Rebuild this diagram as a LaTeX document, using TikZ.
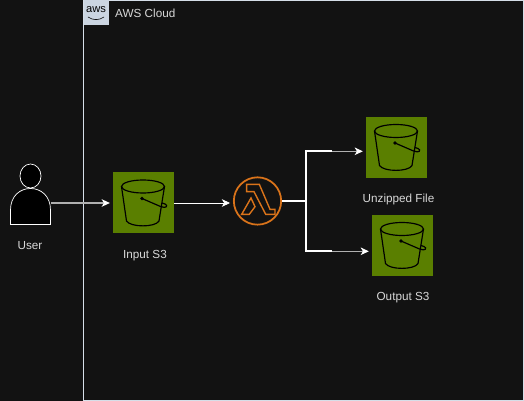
\documentclass[tikz,border=0pt]{standalone}
\usepackage{fontspec}
\setmainfont{Liberation Sans}
\usetikzlibrary{arrows.meta}
\definecolor{bgdark}{HTML}{121212}
\definecolor{bucketgreen}{HTML}{5A7F00}
\definecolor{lambdaorange}{HTML}{D9731A}
\definecolor{labelgray}{HTML}{D8D8D8}
\definecolor{awsbadge}{HTML}{CBD5E1}
\definecolor{linegray}{HTML}{B0B0B0}
\definecolor{framecol}{HTML}{D5DEE8}
\tikzset{
  lbl/.style={text=labelgray, font=\fontsize{10pt}{12pt}\selectfont, inner sep=0pt},
  tile/.style={fill=bucketgreen, draw=none, minimum size=1.83cm, inner sep=0pt},
  flow/.style={draw=linegray, line width=0.9pt, shorten >=2.5pt, -{Stealth[length=7pt,width=6.5pt,inset=2pt,color=white]}},
  thinflow/.style={flow, draw=white, line width=0.6pt},
  trunk/.style={draw=white, line width=1.6pt}
}
% bucket icon, drawn round the centre of its tile
\newcommand{\bucketicon}[1]{
  \begin{scope}[shift={(#1)}, black, line width=1pt, x=0.03cm, y=-0.03cm]
    \draw (-0.5,-16.5) ellipse (21.5 and 6.5);
    \draw (-22,-16.5) -- (-17,18) .. controls (-13,24.5) and (12,24.5) .. (15.5,18) -- (21,-16.5);
    \fill (-1.5,-4.5) circle (1.8);
    \draw (-1.5,-4.5) -- (17,3.5) .. controls (23,6) and (25,2.5) .. (21.5,1) -- (18.5,0);
  \end{scope}
}
\begin{document}
\begin{tikzpicture}[x=0.03cm, y=-0.03cm]
\useasboundingbox (0,0) rectangle (524,401);
\fill[bgdark] (0,0) rectangle (524,401);
% cloud frame
\draw[draw=framecol, line width=0.6pt] (83.5,0.5) rectangle (523.5,400);
\node[fill=awsbadge, minimum size=0.75cm, inner sep=0pt, anchor=north west] (badge) at (84,0) {};
\node[font=\fontsize{9.5pt}{9.5pt}\selectfont, text=black, inner sep=0pt] (awslogo) at (96,9.5) {aws};
\draw[black, line width=0.5pt] (88,17) .. controls (93,20.5) and (99,20.5) .. (104,17);
\node[lbl, anchor=west] (cloudlbl) at (115,13.5) {AWS Cloud};
% user
\draw[white, fill=black, line width=0.6pt] (30.5,176) ellipse (10.5 and 12);
\draw[white, fill=black, line width=0.6pt] (10.5,224.5) -- (10.5,210) .. controls (10.5,196) and (20,188.5) .. (30.5,188.5)
  .. controls (41,188.5) and (50.5,196) .. (50.5,210) -- (50.5,224.5) -- cycle;
\coordinate (user) at (51,203);
\node[lbl] (userlbl) at (30,245.5) {User};
% buckets
\node[tile] (input) at (143.5,203) {};
\bucketicon{input}
\node[lbl] (inputlbl) at (145,255.5) {Input S3};
\node[tile] (unzipped) at (396.5,147.5) {};
\bucketicon{unzipped}
\node[lbl] (unzippedlbl) at (398.5,199.5) {Unzipped File};
\node[tile] (output) at (402.5,245.5) {};
\bucketicon{output}
\node[lbl] (outputlbl) at (403,298) {Output S3};
% lambda
\node[circle, draw=lambdaorange, line width=1.5pt, minimum size=1.42cm, inner sep=0pt] (lambda) at (257.5,201) {};
\draw[lambdaorange, line width=1.2pt, line join=miter] (246.7,184.3) -- (259.3,184.3) -- (270,209.3) -- (275,209.3) -- (275,214.3) -- (265.7,214.3) -- (254,191.7) -- (246.7,191.7) -- cycle;
\draw[lambdaorange, line width=1.2pt] (251,198) -- (255,206.7) -- (249.3,214.3) -- (241.7,214.3) -- cycle;
% connectors
\draw[flow] (user) -- (input.west);
\draw[thinflow] (input.east) -- (input.east -| lambda.west);
\coordinate (branch) at (306,201.3);
\coordinate (upbend) at (306,151.3);
\coordinate (lowbend) at (306,251.3);
\coordinate (upmid) at (332,151.3);
\coordinate (lowmid) at (332,251.3);
\draw[trunk] (upmid) -- (upbend) -- (lowbend) -- (lowmid);
\draw[trunk] (lambda.east |- branch) -- (branch);
\draw[flow] (upmid) -- (unzipped.west |- upmid);
\draw[flow] (lowmid) -- (output.west |- lowmid);
\end{tikzpicture}
\end{document}
